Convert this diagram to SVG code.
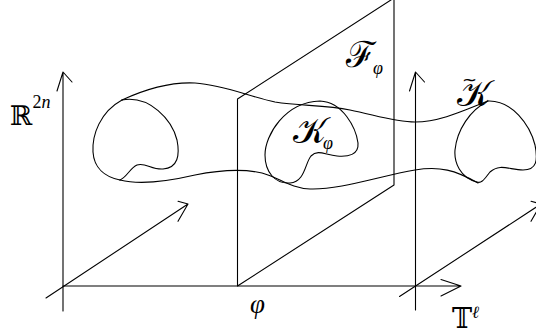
<svg xmlns="http://www.w3.org/2000/svg" width="536" height="336" viewBox="0 0 536 336">
<style>
.ln{fill:none;stroke:#000;stroke-width:1.1;stroke-linecap:round;stroke-linejoin:round}
.bb{font-family:"DejaVu Serif","Liberation Serif",serif;fill:#000}
.it{font-family:"Liberation Serif","DejaVu Serif",serif;font-style:italic;fill:#000}
.cal{font-family:"DejaVu Serif","Liberation Serif",serif;fill:#000}
</style>
<rect width="536" height="336" fill="#fff"/>
<g id="axes" class="ln">
<path d="M63,311 L63,72 M57,91 L63,72 L72,82"/>
<path d="M63,286 L461,286 M441,279.5 L461,286 L441,296"/>
<path d="M46,298 L188,204 M178,201.3 L188,204 L178,221.3"/>
<path d="M415.5,310 L415.5,72 M409.5,91 L415.5,72 L424.5,82"/>
<path d="M399.5,296.5 L541,204 M531,201.3 L541,204 L531,221.3"/>
</g>
<g id="plane" class="ln">
<path d="M237.5,286 L237.5,99 L394,-2 L394,185 Z"/>
</g>
<g id="tube" class="ln">
<path d="M122,100 C150,87 175,82 195,83 C225,85 250,97 275,102 C300,106 325,105 350,110 C375,115 395,122 415,122 C440,122 465,110 488,101"/>
<path d="M120,180 C140,185 165,182 195,175 C215,171 240,168 262,173 C280,178 290,188 310,189 C340,190 380,176 415,170 C440,166 455,170 478,183"/>
</g>
<g id="left-slice" class="ln">
<path d="M122,100 C100,112 92,135 93,152 C94,168 105,177 120,180"/>
<path d="M122,100 C150,95 172,120 177,140 C180,155 178,168 163,169 C152,170 145,162 137,165 C130,168 127,177 120,180"/>
</g>
<g id="K-phi" class="ln">
<path d="M320,101 C343,102 356,128 358,143 C359,155 348,157 337,156 C325,155 318,149 311,156 C305,163 305,182 290,183 C275,184 265,172 265,155 C265,135 285,102 320,101 Z"/>
</g>
<g id="K-tilde-slice" class="ln">
<path d="M488,101 C512,100 530,125 535,145 C538,160 537,170 523,170 C510,170 500,163 490,172 C485,178 482,184 477,182 C460,178 454,162 455,150 C457,130 470,110 488,101 Z"/>
</g>
<g id="labels">
<text x="10" y="125" class="bb" font-size="27">ℝ<tspan y="108" font-size="18" font-family="Liberation Serif">2<tspan font-style="italic">n</tspan></tspan></text>
<text x="346" y="67" class="cal" font-size="36">ℱ<tspan x="373" y="74" font-size="18" class="it">φ</tspan></text>
<text x="293" y="143" class="cal" font-size="36">𝒦<tspan x="323" y="149" font-size="18" class="it">φ</tspan></text>
<text x="457" y="106" class="cal" font-size="36">𝒦</text>
<text x="462" y="86" font-family="DejaVu Sans, sans-serif" font-size="18" fill="#000">~</text>
<text x="250" y="313" class="it" font-size="27">φ</text>
<text x="452" y="328" class="bb" font-size="27">𝕋<tspan y="318" font-size="17" font-family="DejaVu Serif" font-style="italic">ℓ</tspan></text>
</g>
</svg>
